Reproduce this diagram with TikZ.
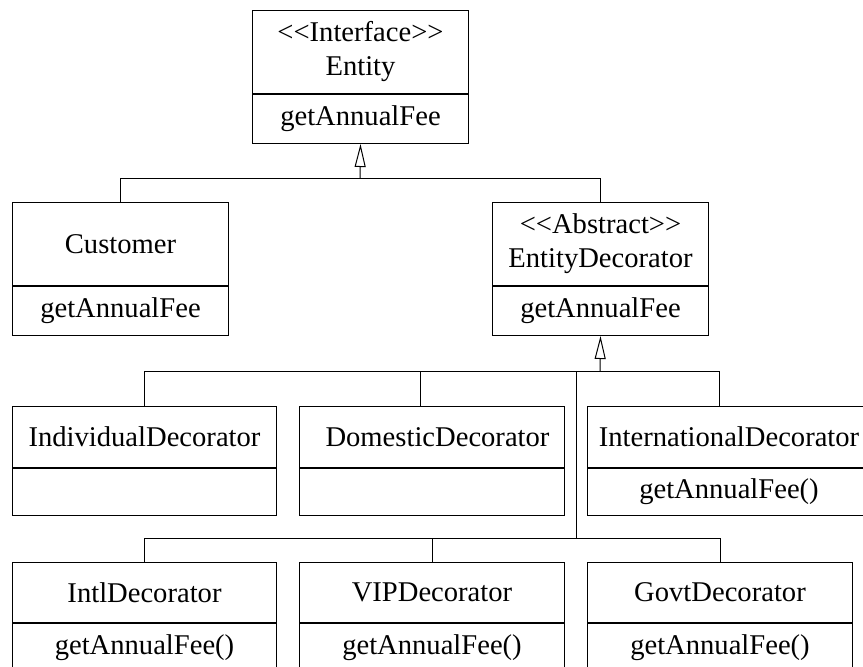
\documentclass[tikz,border=0pt]{standalone}
\usepackage{fontspec}
\setmainfont{Liberation Serif}
\usetikzlibrary{arrows.meta}

\tikzset{
  cls/.style={draw, line width=0.5pt, inner sep=0pt, anchor=north west, align=center,
    font=\fontsize{14.3}{17}\selectfont},
  wire/.style={line width=0.5pt},
  inherits/.style={wire, -{Triangle[open, length=11.5pt, width=5.5pt]}}
}

\begin{document}
\begin{tikzpicture}[x=0.5pt, y=-0.5pt]
  \useasboundingbox (0,0) rectangle (863,666);
  \clip (0,0) rectangle (863,666);

  % top: interface
  \node[cls, minimum width=108pt, minimum height=41.5pt] (entity) at (252,10) {<\kern0pt<Interface>\kern0pt>\\Entity};
  \node[cls, minimum width=108pt, minimum height=24.5pt] (entity-ops) at (entity.south west) {getAnnualFee};

  % second row
  \node[cls, minimum width=108pt, minimum height=41.5pt] (customer) at (12,202) {Customer};
  \node[cls, minimum width=108pt, minimum height=24.5pt] (customer-ops) at (customer.south west) {getAnnualFee};
  \node[cls, minimum width=108pt, minimum height=41.5pt] (decor) at (492,202) {<\kern0pt<Abstract>\kern0pt>\\EntityDecorator};
  \node[cls, minimum width=108pt, minimum height=24.5pt] (decor-ops) at (decor.south west) {getAnnualFee};

  % decorators
  \node[cls, minimum width=132pt, minimum height=30.5pt] (individual) at (12,406) {IndividualDecorator};
  \node[cls, minimum width=132pt, minimum height=23.5pt] (individual-ops) at (individual.south west) {};
  \node[cls, minimum width=132.5pt, minimum height=30.5pt] (domestic) at (299,406) {\hspace*{5.5pt}DomesticDecorator};
  \node[cls, minimum width=132.5pt, minimum height=23.5pt] (domestic-ops) at (domestic.south west) {};
  \node[cls, minimum width=141.5pt, minimum height=30.5pt] (international) at (587,406) {InternationalDecorator};
  \node[cls, minimum width=141.5pt, minimum height=23.5pt] (international-ops) at (international.south west) {getAnnualFee()};

  % bottom row
  \node[cls, minimum width=132pt, minimum height=30pt] (intl) at (12,562) {IntlDecorator};
  \node[cls, minimum width=132pt, minimum height=24pt] (intl-ops) at (intl.south west) {getAnnualFee()};
  \node[cls, minimum width=132.5pt, minimum height=30pt] (vip) at (299,562) {VIPDecorator};
  \node[cls, minimum width=132.5pt, minimum height=24pt] (vip-ops) at (vip.south west) {getAnnualFee()};
  \node[cls, minimum width=132.5pt, minimum height=30pt] (govt) at (587,562) {GovtDecorator};
  \node[cls, minimum width=132.5pt, minimum height=24pt] (govt-ops) at (govt.south west) {getAnnualFee()};

  % junctions
  \coordinate (bus1) at (360,178);
  \coordinate (bus2) at (600,371);
  \coordinate (bus3) at (576,538);
  \coordinate (domestic-in) at (420,406);
  \coordinate (international-in) at (719,406);

  % generalisation lines
  \draw[wire] (customer.north) |- (bus1);
  \draw[wire] (decor.north) |- (bus1);
  \draw[inherits] (bus1) -- (entity-ops.south);

  \draw[wire] (individual.north) |- (bus2);
  \draw[wire] (international-in) |- (bus2);
  \draw[wire] (domestic-in) -- (domestic-in |- bus2);
  \draw[wire] (bus3 |- bus2) -- (bus3);
  \draw[inherits] (bus2) -- (decor-ops.south);

  \draw[wire] (intl.north) |- (bus3);
  \draw[wire] (govt.north) |- (bus3);
  \draw[wire] (vip.north) -- (vip.north |- bus3);
\end{tikzpicture}
\end{document}
